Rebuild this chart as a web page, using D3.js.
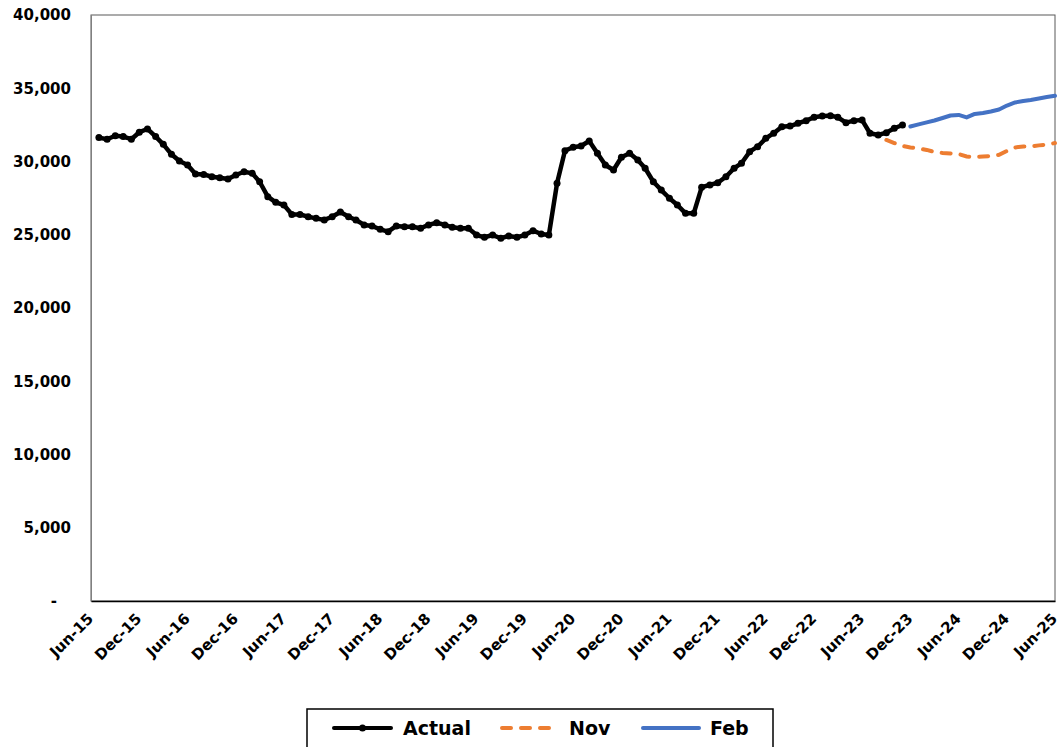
<!DOCTYPE html>
<html><head><meta charset="utf-8">
<script src="https://cdn.jsdelivr.net/npm/d3@7"></script>
<style>body{margin:0;background:#fff}svg{display:block}</style>
</head><body><svg id="chart" width="1061" height="747"></svg>
<script>
// ---------- data ----------
const xDomain = ["2015-06-01", "2025-06-01"];
const yTicks = [0, 5000, 10000, 15000, 20000, 25000, 30000, 35000, 40000];
const xTickLabels = ["Jun-15","Dec-15","Jun-16","Dec-16","Jun-17","Dec-17","Jun-18","Dec-18","Jun-19","Dec-19",
  "Jun-20","Dec-20","Jun-21","Dec-21","Jun-22","Dec-22","Jun-23","Dec-23","Jun-24","Dec-24","Jun-25"];
const seriesNames = ["Actual", "Nov", "Feb"];
const seriesColors = ["#000000", "#ED7D31", "#4472C4"];

const actualStart = "2015-07-01";
const actualValues = [
  31630, 31520, 31760, 31700, 31520, 32000, 32220, 31700, 31170, 30490,
  30030, 29760, 29150, 29120, 28960, 28890, 28800, 29080, 29300, 29190,
  28620, 27600, 27210, 27030, 26390, 26390, 26230, 26120, 26010, 26230,
  26550, 26230, 26010, 25670, 25600, 25370, 25210, 25600, 25550, 25550,
  25440, 25670, 25820, 25670, 25510, 25440, 25440, 24980, 24830, 24980,
  24760, 24920, 24830, 24980, 25280, 25050, 24980, 28510, 30740, 30970,
  31060, 31400, 30560, 29760, 29420, 30290, 30560, 30100, 29540, 28620,
  28050, 27490, 27030, 26460, 26460, 28240, 28400, 28550, 28960, 29540,
  29880, 30670, 31010, 31580, 31930, 32380, 32420, 32610, 32790, 33020,
  33110, 33130, 33020, 32650, 32790, 32830, 31930, 31810, 31970, 32270,
  32490
];

const novStart = "2023-09-01";
const novValues = [
  31470, 31260, 31060, 30960, 30890, 30790, 30650, 30580, 30550, 30510,
  30340, 30310, 30340, 30380, 30450, 30720, 30960, 31030, 31030, 31100,
  31160, 31260
];

const febStart = "2023-12-01";
const febValues = [
  32390, 32530, 32670, 32800, 32970, 33140, 33180, 33010, 33250, 33310,
  33410, 33550, 33820, 34030, 34130, 34200, 34300, 34400, 34490
];

// ---------- helpers ----------
const parse = d3.timeParse("%Y-%m-%d");
const parseLabel = d3.timeParse("%b-%y");
function toSeries(start, values) {
  const s = parse(start);
  return values.map((v, i) => ({ date: d3.timeMonth.offset(s, i), value: v }));
}
const actual = toSeries(actualStart, actualValues);
const nov = toSeries(novStart, novValues);
const feb = toSeries(febStart, febValues);
const xTickDates = xTickLabels.map(parseLabel);

// ---------- layout ----------
const W = 1061, H = 747;
const margin = { left: 91, right: 6, top: 15, bottom: 146 };
const pw = W - margin.left - margin.right;
const ph = H - margin.top - margin.bottom;

const svg = d3.select("#chart");
svg.append("rect").attr("width", W).attr("height", H).attr("fill", "#fff");

const g = svg.append("g").attr("transform", `translate(${margin.left},${margin.top})`);

const x = d3.scaleTime().domain(xDomain.map(parse)).range([0, pw]);
const y = d3.scaleLinear().domain([0, 40000]).range([ph, 0]);

const fontFam = "'DejaVu Sans', Verdana, sans-serif";

// plot border
g.append("rect").attr("x", 0).attr("y", 0).attr("width", pw).attr("height", ph)
  .attr("fill", "none").attr("stroke", "#595959").attr("stroke-width", 1);

// y axis
const yAxis = g.append("g").call(
  d3.axisLeft(y).tickValues(yTicks).tickSize(0).tickPadding(20)
    .tickFormat(d => d === 0 ? "-" : d3.format(",")(d))
);
yAxis.select(".domain").attr("stroke", "#808080");
yAxis.selectAll("text")
  .attr("font-family", fontFam).attr("font-size", 15).attr("font-weight", "bold")
  .attr("fill", "#000")
  .attr("dx", d => d === 0 ? -14 : 0);

// x axis
const xAxis = g.append("g").attr("transform", `translate(0,${ph})`).call(
  d3.axisBottom(x).tickValues(xTickDates).tickSize(0).tickFormat(d3.timeFormat("%b-%y"))
);
xAxis.select(".domain").attr("stroke", "#000").attr("stroke-width", 1.5);
xAxis.selectAll("text")
  .attr("font-family", fontFam).attr("font-size", 15).attr("font-weight", "bold")
  .attr("fill", "#000")
  .attr("text-anchor", "end")
  .attr("transform", "translate(-1,15) rotate(-45)")
  .attr("dy", "0.35em").attr("dx", 0)
  .attr("y", 0).attr("x", 0);

// lines
const line = d3.line().x(d => x(d.date)).y(d => y(d.value));

g.append("path").datum(nov).attr("d", line)
  .attr("fill", "none").attr("stroke", seriesColors[1]).attr("stroke-width", 4)
  .attr("stroke-dasharray", "9,10").attr("stroke-linecap", "round");

g.append("path").datum(feb).attr("d", line)
  .attr("fill", "none").attr("stroke", seriesColors[2]).attr("stroke-width", 4)
  .attr("stroke-linejoin", "round").attr("stroke-linecap", "round");

g.append("path").datum(actual).attr("d", line)
  .attr("fill", "none").attr("stroke", seriesColors[0]).attr("stroke-width", 4.5)
  .attr("stroke-linejoin", "round");

g.append("g").selectAll("circle").data(actual).join("circle")
  .attr("cx", d => x(d.date)).attr("cy", d => y(d.value)).attr("r", 3.5)
  .attr("fill", "#000");

// legend
const lg = svg.append("g");
lg.append("rect").attr("x", 307).attr("y", 709).attr("width", 466).attr("height", 50)
  .attr("fill", "#fff").attr("stroke", "#000").attr("stroke-width", 1.5);

const legendItems = [
  { name: seriesNames[0], color: seriesColors[0], x1: 334, x2: 391, tx: 403, dash: null, marker: true },
  { name: seriesNames[1], color: seriesColors[1], x1: 502, x2: 553, tx: 569, dash: "9,10", marker: false },
  { name: seriesNames[2], color: seriesColors[2], x1: 643, x2: 699, tx: 710, dash: null, marker: false }
];
const ly = 728;
legendItems.forEach(it => {
  const l = lg.append("line").attr("x1", it.x1).attr("x2", it.x2).attr("y1", ly).attr("y2", ly)
    .attr("stroke", it.color).attr("stroke-width", 4).attr("stroke-linecap", "round");
  if (it.dash) l.attr("stroke-dasharray", it.dash);
  if (it.marker) lg.append("circle").attr("cx", (it.x1 + it.x2) / 2).attr("cy", ly).attr("r", 3.5).attr("fill", it.color);
  lg.append("text").attr("x", it.tx).attr("y", ly).attr("dy", "0.36em")
    .attr("font-family", fontFam).attr("font-size", 19).attr("font-weight", "bold")
    .attr("fill", "#000").text(it.name);
});
</script></body></html>
